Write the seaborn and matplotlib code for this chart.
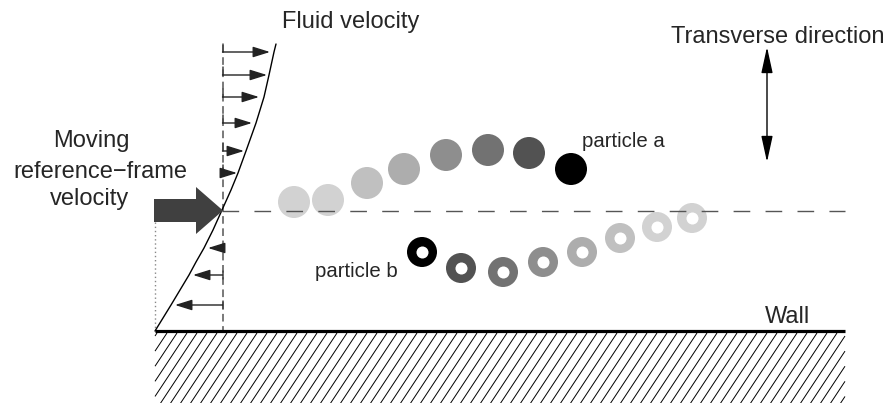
import numpy as np
import seaborn as sns
import matplotlib
matplotlib.use("Agg")
import matplotlib.pyplot as plt
from matplotlib.patches import FancyArrow
from matplotlib.collections import LineCollection

# everything is in picture pixels, y grows downwards
# fluid velocity profile (curve)
profile_y = [331, 318, 305, 290, 275, 262, 248, 230, 210, 190, 173, 151, 123, 97, 75, 52, 44]
profile_x = [155, 163, 171, 180, 189, 196, 204, 213, 222, 231, 238, 246, 256, 264, 269, 274, 276]

# velocity arrows: level and tip position
arrow_up_y = [52, 75, 97, 123, 151, 173]
arrow_up_tip = [270, 267, 259, 252, 244, 237]
arrow_down_y = [248, 275, 305]
arrow_down_tip = [208, 193, 175]

# particle a (filled discs), light -> dark
part_a_x = [294, 328, 367, 404, 446, 488, 529, 571]
part_a_y = [202, 200, 183, 169, 155, 150, 153, 169]
part_a_col = ["#d2d2d2", "#d2d2d2", "#c0c0c0", "#adadad", "#8e8e8e", "#727272", "#525252", "#000000"]

# particle b (rings), dark -> light
part_b_x = [422, 461, 503, 543, 582, 620, 657, 692]
part_b_y = [252, 268, 272, 262, 252, 238, 227, 218]
part_b_col = ["#000000", "#525252", "#727272", "#8e8e8e", "#adadad", "#c0c0c0", "#d2d2d2", "#d2d2d2"]

sns.set_style("white")
plt.rcParams["font.family"] = ["Liberation Sans", "DejaVu Sans"]

fig = plt.figure(figsize=(8.89, 4.03), dpi=100)
ax = fig.add_axes([0, 0, 1, 1])
ax.set_xlim(0, 889)
ax.set_ylim(403, 0)
ax.axis("off")

# wall + hatching (clipped by hand to the wall block)
ax.plot([155, 845], [331, 331], color="black", lw=2.3, solid_capstyle="butt", zorder=3)
x_lo, x_hi, y_bot, y_top, run = 155, 845, 404, 333, 47
segs = []
for x0 in np.arange(100, 850, 10):
    t0 = max(0.0, (x_lo - x0) / run)
    t1 = min(1.0, (x_hi - x0) / run)
    if t1 <= t0:
        continue
    segs.append([(x0 + run * t0, y_bot - (y_bot - y_top) * t0),
                 (x0 + run * t1, y_bot - (y_bot - y_top) * t1)])
ax.add_collection(LineCollection(segs, colors="black", linewidths=0.7))

# reference lines
ax.plot([222.5, 222.5], [45, 331], color="#555555", lw=1.1, dashes=(5, 3), zorder=2)
ax.plot([222, 845], [210.5, 210.5], color="#555555", lw=1.0, dashes=(12, 11), zorder=6)
ax.plot([155, 155], [222, 331], color="#888888", lw=1.0, ls=(0, (1, 2)), zorder=2)

# velocity profile
sns.lineplot(x=profile_x, y=profile_y, sort=False, estimator=None, color="black", lw=1.0, ax=ax, zorder=4)

ar = dict(arrowstyle="-|>,head_length=0.8,head_width=0.25", mutation_scale=13,
          lw=1.0, color="#222222", shrinkA=0, shrinkB=0)
for y, tip in zip(arrow_up_y, arrow_up_tip):
    ax.annotate("", xy=(tip, y), xytext=(222.5, y), arrowprops=ar, zorder=5)
    ax.plot([222.5, 222.5], [y - 8, y], color="#444444", lw=1.1)
for y, tip in zip(arrow_down_y, arrow_down_tip):
    ax.annotate("", xy=(tip, y), xytext=(222.5, y), arrowprops=ar, zorder=5)
    ax.plot([222.5, 222.5], [y - 4, y + 4], color="#444444", lw=1.1)

# moving reference frame arrow
ax.add_patch(FancyArrow(154, 210.5, 69, 0, width=23, head_width=47, head_length=27,
                        length_includes_head=True, color="#404040", lw=0, zorder=5))

# particles
pal_a = dict(zip(range(8), part_a_col))
pal_b = dict(zip(range(8), part_b_col))
sns.scatterplot(x=part_a_x, y=part_a_y, hue=list(range(8)), palette=pal_a, s=531,
                linewidth=0, legend=False, ax=ax, zorder=4)
sns.scatterplot(x=part_b_x, y=part_b_y, hue=list(range(8)), palette=pal_b, s=467,
                linewidth=0, legend=False, ax=ax, zorder=4)
sns.scatterplot(x=part_b_x, y=part_b_y, color="white", s=75,
                linewidth=0, legend=False, ax=ax, zorder=5)

# transverse direction arrow
ax.annotate("", xy=(767, 47), xytext=(767, 162),
            arrowprops=dict(arrowstyle="<|-|>,head_length=1.6,head_width=0.35", mutation_scale=10,
                            lw=1.0, color="black", shrinkA=0, shrinkB=0))

# labels
big = 17
ax.text(351, 28, "Fluid velocity", ha="center", va="baseline", fontsize=big)
ax.text(778, 43, "Transverse direction", ha="center", va="baseline", fontsize=big)
ax.text(91, 147, "Moving", ha="center", va="baseline", fontsize=big)
ax.text(100, 178, "reference\u2212frame", ha="center", va="baseline", fontsize=big)
ax.text(90, 205, "velocity", ha="center", va="baseline", fontsize=big)
ax.text(788, 323, "Wall", ha="center", va="baseline", fontsize=big)
ax.text(582, 147, "particle a", ha="left", va="baseline", fontsize=14.7)
ax.text(315, 277, "particle b", ha="left", va="baseline", fontsize=14.7)

fig.savefig("out.png", dpi=100)
